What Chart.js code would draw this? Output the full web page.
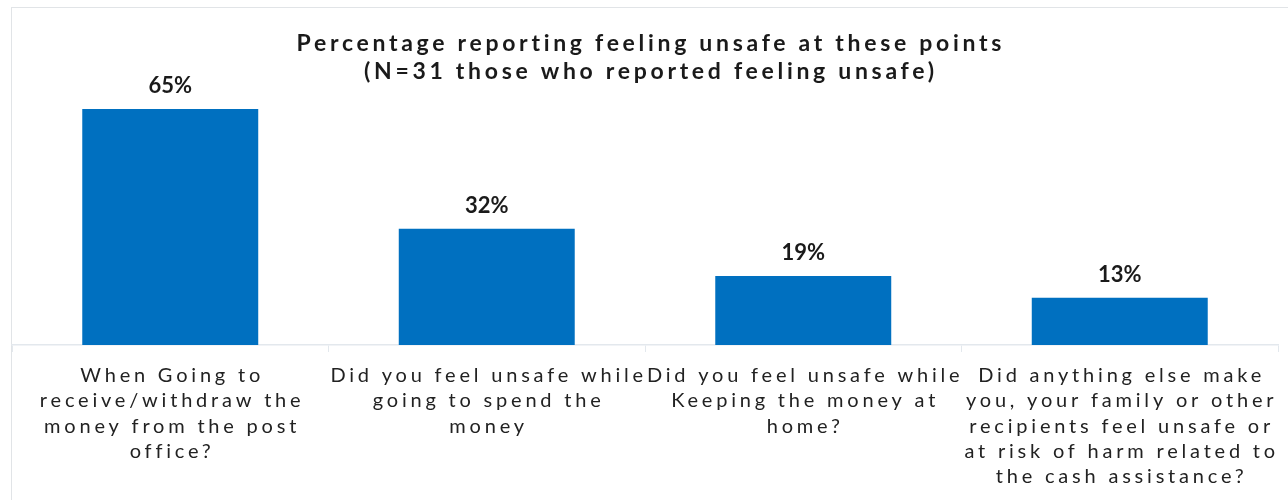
<!DOCTYPE html>
<html>
<head>
<meta charset="utf-8">
<script src="https://cdn.jsdelivr.net/npm/chart.js@4.4.1/dist/chart.umd.min.js"></script>
<style>
  html, body { margin: 0; padding: 0; background: #fff; }
  #wrap { width: 1288px; height: 500px; position: relative; }
</style>
</head>
<body>
<div id="wrap"><canvas id="unsafeChart"></canvas></div>
<script>
const titleLines = [
  "Percentage reporting feeling unsafe at these points",
  "(N=31 those who reported feeling unsafe)"
];
const categories = [
  ["When Going to", "receive/withdraw the", "money from the post", "office?"],
  ["Did you feel unsafe while", "going to spend the", "money"],
  ["Did you feel unsafe while", "Keeping the money at", "home?"],
  ["Did anything else make", "you, your family or other", "recipients feel unsafe or", "at risk of harm related to", "the cash assistance?"]
];
const percentUnsafe = [65, 32, 19, 13];

const FONT = "Lato, 'Noto Sans', sans-serif";

// outer frame, title, value labels and the wrapped category labels
const decorations = {
  id: "decorations",
  beforeDraw(chart) {
    const ctx = chart.ctx;
    ctx.save();
    ctx.strokeStyle = "#e1e4e7";
    ctx.lineWidth = 1;
    ctx.strokeRect(11.5, 7.5, 1400, 600);
    ctx.restore();
  },
  afterDraw(chart) {
    const ctx = chart.ctx;
    const xScale = chart.scales.x;
    const meta = chart.getDatasetMeta(0);

    ctx.save();
    ctx.fillStyle = "#1a1a1a";
    ctx.textAlign = "center";
    ctx.textBaseline = "alphabetic";

    // title
    ctx.font = "bold 23px " + FONT;
    ctx.letterSpacing = "3.7px";
    titleLines.forEach((line, i) => {
      ctx.fillText(line, 649 + 1.85, 51 + i * 28);
    });

    // value labels above the bars
    ctx.font = "bold 22px " + FONT;
    ctx.letterSpacing = "0px";
    meta.data.forEach((bar, i) => {
      ctx.fillText(percentUnsafe[i] + "%", bar.x, bar.y - 16);
    });

    // category labels under the axis
    ctx.font = "20px " + FONT;
    ctx.letterSpacing = "3.8px";
    ctx.fillStyle = "#222";
    categories.forEach((lines, i) => {
      const cx = xScale.getPixelForValue(i);
      lines.forEach((line, j) => {
        ctx.fillText(line, cx + 1.9, 382 + j * 25.3);
      });
    });
    ctx.restore();
  }
};

const ctx = document.getElementById("unsafeChart").getContext("2d");
new Chart(ctx, {
  type: "bar",
  data: {
    labels: categories.map((c) => c.join(" ")),
    datasets: [
      {
        data: percentUnsafe,
        backgroundColor: "#0070c0",
        borderWidth: 0,
        categoryPercentage: 1,
        barPercentage: 0.556,
      },
    ],
  },
  options: {
    responsive: true,
    maintainAspectRatio: false,
    animation: false,
    layout: { padding: { top: 109, left: 12, right: 10, bottom: 0 } },
    scales: {
      x: {
        offset: true,
        grid: {
          offset: true,
          drawOnChartArea: false,
          drawTicks: true,
          tickLength: 7,
          color: "#e3e8ed",
        },
        border: { display: true, color: "#e3e8ed", width: 1.5 },
        ticks: { display: false },
        afterFit: (scale) => { scale.height = 155; },
      },
      y: {
        display: false,
        min: 0,
        max: 65,
      },
    },
    plugins: {
      legend: { display: false },
      tooltip: { enabled: false },
      title: { display: false },
    },
  },
  plugins: [decorations],
});
</script>
</body>
</html>
